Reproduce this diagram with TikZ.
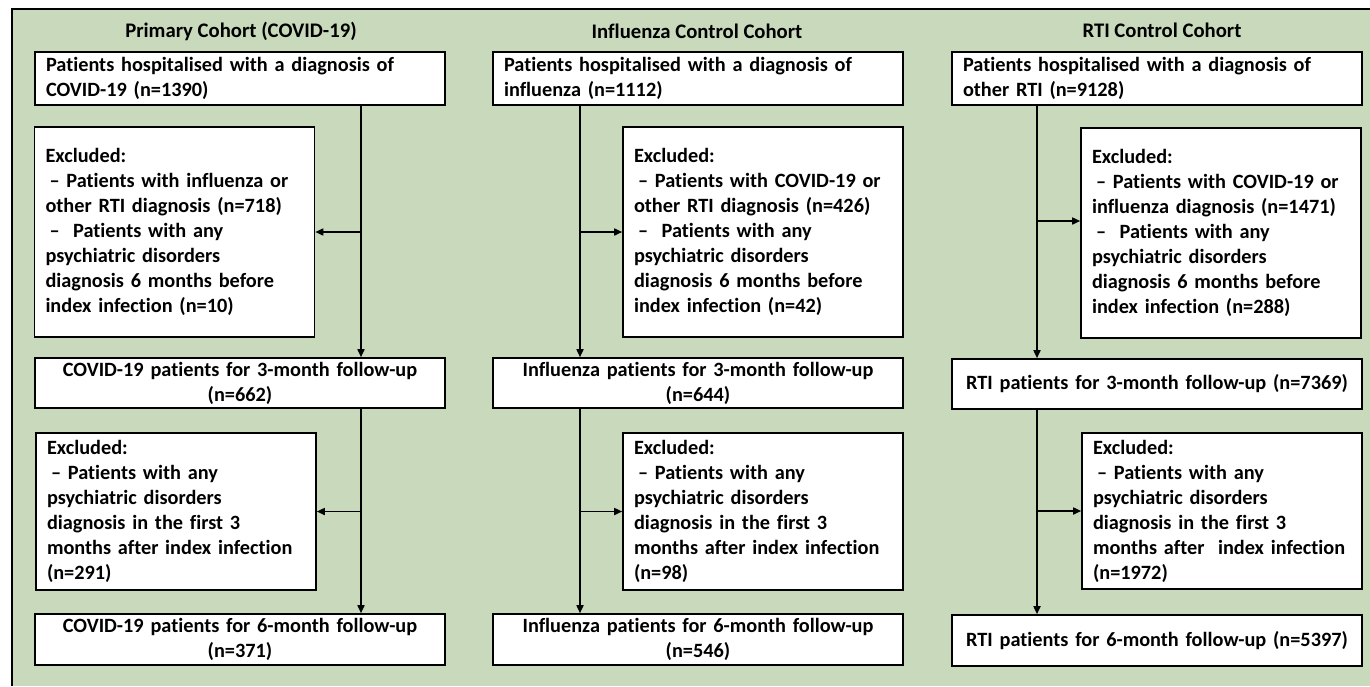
\documentclass[tikz,border=0pt]{standalone}
\usepackage{fontspec}
\setmainfont{Carlito}[Ligatures=NoCommon]
\usetikzlibrary{arrows.meta, positioning}
\definecolor{cohortgreen}{RGB}{200,218,187}
\newcommand{\exdash}{\hspace*{4pt}–\ }

\begin{document}
\begin{tikzpicture}[x=1pt, y=-1pt,
  font=\fontsize{20.3}{25}\selectfont\bfseries,
  box/.style={draw, fill=white, line width=1.6pt, minimum width=410pt, text width=388pt, inner xsep=11pt, inner ysep=0pt},
  excl/.style={box, minimum width=280pt, text width=258pt, align=left},
  title/.style={inner sep=0pt, font=\fontsize{20.7}{25}\selectfont\bfseries},
  arr/.style={line width=1.6pt, -{Triangle[length=8pt,width=7pt]}}]
\useasboundingbox (0,0) rectangle (1370,686);
% Background panel
\fill[cohortgreen] (12,9) rectangle (1370,686);
\draw[line width=1.6pt] (12,686) -- (12,9) -- (1370,9);

% Primary cohort
\node[title] (t1) at (241,31) {Primary Cohort (COVID-19)};
\node[box, align=left, minimum height=53pt] (c1a) at (240,78.5) {Patients hospitalised with a diagnosis of\\COVID-19 (n=1390)};
\node[excl, minimum height=210pt] (c1x) at (174.5,232) {Excluded:\\\exdash Patients with influenza or\\other RTI diagnosis (n=718)\\\exdash\ Patients with any\\psychiatric disorders\\diagnosis 6 months before\\index infection (n=10)};
\node[box, align=center, minimum height=50pt] (c1b) at (240,383) {COVID-19 patients for 3-month follow-up\\(n=662)};
\node[excl, minimum height=157pt] (c1y) at (176,511.5) {Excluded:\\\exdash Patients with any\\psychiatric disorders\\diagnosis in the first 3\\months after index infection\\(n=291)};
\node[box, align=center, minimum height=51pt] (c1c) at (240,639.5) {COVID-19 patients for 6-month follow-up\\(n=371)};
\coordinate (v1) at (361,0);
\draw[arr] (c1a.south -| v1) -- (c1b.north -| v1);
\draw[arr] (c1b.south -| v1) -- (c1c.north -| v1);
\draw[arr] (v1 |- c1x.east) -- (c1x.east);
\draw[arr] (v1 |- c1y.east) -- (c1y.east);

% Influenza cohort
\node[title] (t2) at (697,31) {Influenza Control Cohort};
\node[box, align=left, minimum height=53pt] (c2a) at (698,78.5) {Patients hospitalised with a diagnosis of\\influenza (n=1112)};
\node[excl, minimum height=210pt] (c2x) at (763,232) {Excluded:\\\exdash Patients with COVID-19 or\\other RTI diagnosis (n=426)\\\exdash\ Patients with any\\psychiatric disorders\\diagnosis 6 months before\\index infection (n=42)};
\node[box, align=center, minimum height=50pt] (c2b) at (698,383) {Influenza patients for 3-month follow-up\\(n=644)};
\node[excl, minimum height=157pt] (c2y) at (763,511.5) {Excluded:\\\exdash Patients with any\\psychiatric disorders\\diagnosis in the first 3\\months after index infection\\(n=98)};
\node[box, align=center, minimum height=51pt] (c2c) at (698,639.5) {Influenza patients for 6-month follow-up\\(n=546)};
\coordinate (v2) at (580,0);
\draw[arr] (c2a.south -| v2) -- (c2b.north -| v2);
\draw[arr] (c2b.south -| v2) -- (c2c.north -| v2);
\draw[arr] (v2 |- c2x.west) -- (c2x.west);
\draw[arr] (v2 |- c2y.west) -- (c2y.west);

% RTI cohort
\node[title] (t3) at (1162,30) {RTI Control Cohort};
\node[box, align=left, minimum height=53pt] (c3a) at (1157,78.5) {Patients hospitalised with a diagnosis of\\other RTI (n=9128)};
\node[excl, minimum height=210pt] (c3x) at (1221,233) {Excluded:\\\exdash Patients with COVID-19 or\\influenza diagnosis (n=1471)\\\exdash\ Patients with any\\psychiatric disorders\\diagnosis 6 months before\\index infection (n=288)};
\node[box, align=center, minimum height=50pt] (c3b) at (1157,384) {RTI patients for 3-month follow-up (n=7369)};
\node[excl, minimum height=156pt] (c3y) at (1222,511) {Excluded:\\\exdash Patients with any\\psychiatric disorders\\diagnosis in the first 3\\months after\ \ index infection\\(n=1972)};
\node[box, align=center, minimum height=51pt] (c3c) at (1157,640.5) {RTI patients for 6-month follow-up (n=5397)};
\coordinate (v3) at (1037,0);
\coordinate (j3) at (1037,221);
\draw[arr] (c3a.south -| v3) -- (c3b.north -| v3);
\draw[arr] (c3b.south -| v3) -- (c3c.north -| v3);
\draw[arr] (j3) -- (j3 -| c3x.west);
\draw[arr] (v3 |- c3y.west) -- (c3y.west);
\end{tikzpicture}
\end{document}
